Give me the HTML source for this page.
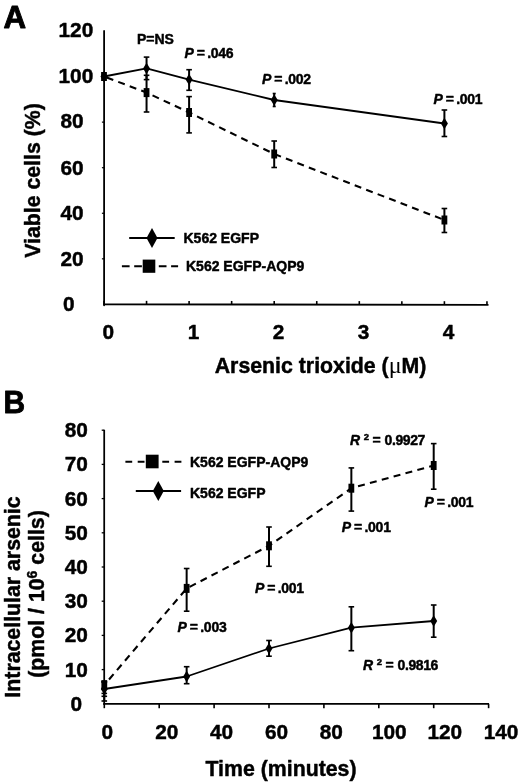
<!DOCTYPE html>
<html><head><meta charset="utf-8"><title>Figure</title>
<style>
html,body{margin:0;padding:0;background:#fff;}
svg{display:block;font-family:"Liberation Sans", sans-serif;filter:grayscale(1);}
text{fill:#000;stroke:#000;stroke-width:0.45px;stroke-linejoin:round;}
</style></head>
<body>
<svg width="520" height="784" viewBox="0 0 520 784">
<rect width="520" height="784" fill="#fff"/>
<line x1="104.1" y1="31" x2="104.1" y2="305.3" stroke="#000" stroke-width="1.8" stroke-linecap="round"/>
<line x1="103.2" y1="304.3" x2="488.5" y2="304.8" stroke="#000" stroke-width="1.8" stroke-linecap="butt"/>
<line x1="104.0" y1="300.8" x2="104.0" y2="304.4" stroke="#000" stroke-width="1.6" stroke-linecap="butt"/>
<line x1="146.55" y1="300.85" x2="146.55" y2="304.45" stroke="#000" stroke-width="1.6" stroke-linecap="butt"/>
<line x1="189.1" y1="300.9" x2="189.1" y2="304.5" stroke="#000" stroke-width="1.6" stroke-linecap="butt"/>
<line x1="231.65" y1="300.95" x2="231.65" y2="304.55" stroke="#000" stroke-width="1.6" stroke-linecap="butt"/>
<line x1="274.2" y1="301" x2="274.2" y2="304.6" stroke="#000" stroke-width="1.6" stroke-linecap="butt"/>
<line x1="316.75" y1="301.05" x2="316.75" y2="304.65" stroke="#000" stroke-width="1.6" stroke-linecap="butt"/>
<line x1="359.3" y1="301.1" x2="359.3" y2="304.7" stroke="#000" stroke-width="1.6" stroke-linecap="butt"/>
<line x1="401.85" y1="301.15" x2="401.85" y2="304.75" stroke="#000" stroke-width="1.6" stroke-linecap="butt"/>
<line x1="444.4" y1="301.2" x2="444.4" y2="304.8" stroke="#000" stroke-width="1.6" stroke-linecap="butt"/>
<line x1="486.95" y1="301.25" x2="486.95" y2="304.85" stroke="#000" stroke-width="1.6" stroke-linecap="butt"/>
<text x="68.9" y="311.3" font-size="20.8" font-weight="bold" text-anchor="middle" >0</text>
<text x="72" y="265.73" font-size="20.8" font-weight="bold" text-anchor="middle" >20</text>
<line x1="101.9" y1="258.83" x2="104.1" y2="258.83" stroke="#000" stroke-width="1.2" stroke-linecap="butt"/>
<text x="72" y="220.17" font-size="20.8" font-weight="bold" text-anchor="middle" >40</text>
<line x1="101.9" y1="213.27" x2="104.1" y2="213.27" stroke="#000" stroke-width="1.2" stroke-linecap="butt"/>
<text x="72" y="174.6" font-size="20.8" font-weight="bold" text-anchor="middle" >60</text>
<line x1="101.9" y1="167.7" x2="104.1" y2="167.7" stroke="#000" stroke-width="1.2" stroke-linecap="butt"/>
<text x="72" y="128.23" font-size="20.8" font-weight="bold" text-anchor="middle" >80</text>
<line x1="101.9" y1="122.13" x2="104.1" y2="122.13" stroke="#000" stroke-width="1.2" stroke-linecap="butt"/>
<text x="75.9" y="83.47" font-size="20.8" font-weight="bold" text-anchor="middle" >100</text>
<line x1="101.9" y1="76.57" x2="104.1" y2="76.57" stroke="#000" stroke-width="1.2" stroke-linecap="butt"/>
<text x="75.9" y="36.9" font-size="20.8" font-weight="bold" text-anchor="middle" >120</text>
<text x="108.4" y="338.9" font-size="20.8" font-weight="bold" text-anchor="middle" >0</text>
<text x="193.45" y="338.9" font-size="20.8" font-weight="bold" text-anchor="middle" >1</text>
<text x="278.5" y="338.9" font-size="20.8" font-weight="bold" text-anchor="middle" >2</text>
<text x="363.55" y="338.9" font-size="20.8" font-weight="bold" text-anchor="middle" >3</text>
<text x="448.6" y="338.9" font-size="20.8" font-weight="bold" text-anchor="middle" >4</text>
<polyline points="104.0,76.5 146.55,68.4 189.1,79.6 274.2,100 444.4,123.5" fill="none" stroke="#000" stroke-width="1.8" stroke-linejoin="round"/>
<polyline points="104.0,76.5 146.55,92.6 189.1,112.5 274.2,154 444.4,220" fill="none" stroke="#000" stroke-width="2.1" stroke-linejoin="round" stroke-dasharray="7 5.3" stroke-dashoffset="9.4"/>
<line x1="146.55" y1="57.1" x2="146.55" y2="79.6" stroke="#000" stroke-width="2.0" stroke-linecap="butt"/>
<line x1="143.75" y1="57.1" x2="149.35" y2="57.1" stroke="#000" stroke-width="1.6" stroke-linecap="butt"/>
<line x1="143.75" y1="79.6" x2="149.35" y2="79.6" stroke="#000" stroke-width="1.6" stroke-linecap="butt"/>
<line x1="189.1" y1="69.7" x2="189.1" y2="90.3" stroke="#000" stroke-width="2.0" stroke-linecap="butt"/>
<line x1="186.3" y1="69.7" x2="191.9" y2="69.7" stroke="#000" stroke-width="1.6" stroke-linecap="butt"/>
<line x1="186.3" y1="90.3" x2="191.9" y2="90.3" stroke="#000" stroke-width="1.6" stroke-linecap="butt"/>
<line x1="274.2" y1="93.5" x2="274.2" y2="106.5" stroke="#000" stroke-width="2.0" stroke-linecap="butt"/>
<line x1="272.7" y1="93.5" x2="275.7" y2="93.5" stroke="#000" stroke-width="1.6" stroke-linecap="butt"/>
<line x1="272.7" y1="106.5" x2="275.7" y2="106.5" stroke="#000" stroke-width="1.6" stroke-linecap="butt"/>
<line x1="444.4" y1="110" x2="444.4" y2="136.5" stroke="#000" stroke-width="2.0" stroke-linecap="butt"/>
<line x1="441.6" y1="110" x2="447.2" y2="110" stroke="#000" stroke-width="1.6" stroke-linecap="butt"/>
<line x1="441.6" y1="136.5" x2="447.2" y2="136.5" stroke="#000" stroke-width="1.6" stroke-linecap="butt"/>
<line x1="146.55" y1="75.3" x2="146.55" y2="112" stroke="#000" stroke-width="2.0" stroke-linecap="butt"/>
<line x1="143.75" y1="75.3" x2="149.35" y2="75.3" stroke="#000" stroke-width="1.6" stroke-linecap="butt"/>
<line x1="143.75" y1="112" x2="149.35" y2="112" stroke="#000" stroke-width="1.6" stroke-linecap="butt"/>
<line x1="189.1" y1="96.6" x2="189.1" y2="132.9" stroke="#000" stroke-width="2.0" stroke-linecap="butt"/>
<line x1="186.3" y1="96.6" x2="191.9" y2="96.6" stroke="#000" stroke-width="1.6" stroke-linecap="butt"/>
<line x1="186.3" y1="132.9" x2="191.9" y2="132.9" stroke="#000" stroke-width="1.6" stroke-linecap="butt"/>
<line x1="274.2" y1="141" x2="274.2" y2="167.5" stroke="#000" stroke-width="2.0" stroke-linecap="butt"/>
<line x1="271.4" y1="141" x2="277.0" y2="141" stroke="#000" stroke-width="1.6" stroke-linecap="butt"/>
<line x1="271.4" y1="167.5" x2="277.0" y2="167.5" stroke="#000" stroke-width="1.6" stroke-linecap="butt"/>
<line x1="444.4" y1="208.5" x2="444.4" y2="232.5" stroke="#000" stroke-width="2.0" stroke-linecap="butt"/>
<line x1="441.6" y1="208.5" x2="447.2" y2="208.5" stroke="#000" stroke-width="1.6" stroke-linecap="butt"/>
<line x1="441.6" y1="232.5" x2="447.2" y2="232.5" stroke="#000" stroke-width="1.6" stroke-linecap="butt"/>
<polygon points="104.0,70.75 107.5,76.5 104.0,82.25 100.5,76.5" fill="#000"/>
<polygon points="146.55,62.65 150.05,68.4 146.55,74.15 143.05,68.4" fill="#000"/>
<polygon points="189.1,73.85 192.6,79.6 189.1,85.35 185.6,79.6" fill="#000"/>
<polygon points="274.2,94.25 277.7,100 274.2,105.75 270.7,100" fill="#000"/>
<polygon points="444.4,117.75 447.9,123.5 444.4,129.25 440.9,123.5" fill="#000"/>
<rect x="101.1" y="72.0" width="5.8" height="9" fill="#000"/>
<rect x="143.65" y="88.1" width="5.8" height="9" fill="#000"/>
<rect x="186.2" y="108.0" width="5.8" height="9" fill="#000"/>
<rect x="271.3" y="149.5" width="5.8" height="9" fill="#000"/>
<rect x="441.5" y="215.5" width="5.8" height="9" fill="#000"/>
<text x="137" y="43.6" font-size="14" font-weight="bold" text-anchor="start" >P=NS</text>
<text x="184.5" y="57.8" font-size="14" font-weight="bold"><tspan font-style="italic">P</tspan><tspan dx="2.8">=</tspan><tspan dx="2.3" letter-spacing="-0.25">.046</tspan></text>
<text x="262" y="83.5" font-size="14" font-weight="bold"><tspan font-style="italic">P</tspan><tspan dx="2.8">=</tspan><tspan dx="2.3" letter-spacing="-0.25">.002</tspan></text>
<text x="433.5" y="103.5" font-size="14" font-weight="bold"><tspan font-style="italic">P</tspan><tspan dx="2.8">=</tspan><tspan dx="2.3" letter-spacing="-0.25">.001</tspan></text>
<line x1="129.2" y1="238" x2="174.7" y2="238" stroke="#000" stroke-width="2" stroke-linecap="butt"/>
<polygon points="152,227.9 157.5,237.9 152,247.9 146.5,237.9" fill="#000"/>
<text x="183.5" y="243" font-size="14" font-weight="bold" text-anchor="start" >K562 EGFP</text>
<line x1="121.9" y1="266.2" x2="178.1" y2="266.2" stroke="#000" stroke-width="2" stroke-linecap="butt" stroke-dasharray="7.7 4.6"/>
<rect x="142.7" y="259.6" width="12.6" height="13.2" fill="#000"/>
<text x="186" y="271.3" font-size="14" font-weight="bold" text-anchor="start" >K562 EGFP-AQP9</text>
<text transform="translate(39.6,180.5) rotate(-90)" font-size="21.3" font-weight="bold" text-anchor="middle">Viable cells (%)</text>
<text x="320.6" y="372.5" font-size="21.3" font-weight="bold" text-anchor="middle">Arsenic trioxide (<tspan font-family="'Liberation Serif',serif" font-weight="normal" font-size="24" style="stroke:none">μ</tspan>M)</text>
<text x="3.5" y="27.6" font-size="31.3" font-weight="bold" text-anchor="start" style="stroke-width:0.9px">A</text>
<line x1="104.2" y1="429.7" x2="104.2" y2="704.8" stroke="#000" stroke-width="1.75" stroke-linecap="butt"/>
<line x1="103.3" y1="703.8" x2="489" y2="703.8" stroke="#000" stroke-width="1.75" stroke-linecap="butt"/>
<line x1="104.3" y1="703.8" x2="104.3" y2="708.2" stroke="#000" stroke-width="1.6" stroke-linecap="butt"/>
<line x1="159.2" y1="703.8" x2="159.2" y2="708.2" stroke="#000" stroke-width="1.6" stroke-linecap="butt"/>
<line x1="214.1" y1="703.8" x2="214.1" y2="708.2" stroke="#000" stroke-width="1.6" stroke-linecap="butt"/>
<line x1="269.0" y1="703.8" x2="269.0" y2="708.2" stroke="#000" stroke-width="1.6" stroke-linecap="butt"/>
<line x1="323.9" y1="703.8" x2="323.9" y2="708.2" stroke="#000" stroke-width="1.6" stroke-linecap="butt"/>
<line x1="378.8" y1="703.8" x2="378.8" y2="708.2" stroke="#000" stroke-width="1.6" stroke-linecap="butt"/>
<line x1="433.7" y1="703.8" x2="433.7" y2="708.2" stroke="#000" stroke-width="1.6" stroke-linecap="butt"/>
<line x1="488.6" y1="703.8" x2="488.6" y2="708.2" stroke="#000" stroke-width="1.6" stroke-linecap="butt"/>
<text x="76.2" y="710.8" font-size="20.8" font-weight="bold" text-anchor="middle" >0</text>
<line x1="101.7" y1="669.6" x2="104.2" y2="669.6" stroke="#000" stroke-width="1.3" stroke-linecap="butt"/>
<text x="76.2" y="676.6" font-size="20.8" font-weight="bold" text-anchor="middle" >10</text>
<line x1="101.7" y1="635.4" x2="104.2" y2="635.4" stroke="#000" stroke-width="1.3" stroke-linecap="butt"/>
<text x="76.2" y="642.4" font-size="20.8" font-weight="bold" text-anchor="middle" >20</text>
<line x1="101.7" y1="601.2" x2="104.2" y2="601.2" stroke="#000" stroke-width="1.3" stroke-linecap="butt"/>
<text x="76.2" y="608.2" font-size="20.8" font-weight="bold" text-anchor="middle" >30</text>
<line x1="101.7" y1="567.0" x2="104.2" y2="567.0" stroke="#000" stroke-width="1.3" stroke-linecap="butt"/>
<text x="76.2" y="574.0" font-size="20.8" font-weight="bold" text-anchor="middle" >40</text>
<line x1="101.7" y1="532.8" x2="104.2" y2="532.8" stroke="#000" stroke-width="1.3" stroke-linecap="butt"/>
<text x="76.2" y="539.8" font-size="20.8" font-weight="bold" text-anchor="middle" >50</text>
<line x1="101.7" y1="498.6" x2="104.2" y2="498.6" stroke="#000" stroke-width="1.3" stroke-linecap="butt"/>
<text x="76.2" y="505.6" font-size="20.8" font-weight="bold" text-anchor="middle" >60</text>
<line x1="101.7" y1="464.4" x2="104.2" y2="464.4" stroke="#000" stroke-width="1.3" stroke-linecap="butt"/>
<text x="76.2" y="471.4" font-size="20.8" font-weight="bold" text-anchor="middle" >70</text>
<line x1="101.7" y1="430.2" x2="104.2" y2="430.2" stroke="#000" stroke-width="1.3" stroke-linecap="butt"/>
<text x="76.2" y="437.2" font-size="20.8" font-weight="bold" text-anchor="middle" >80</text>
<text x="107.3" y="738.9" font-size="20.8" font-weight="bold" text-anchor="middle" >0</text>
<text x="166.8" y="738.9" font-size="20.8" font-weight="bold" text-anchor="middle" >20</text>
<text x="221.6" y="738.9" font-size="20.8" font-weight="bold" text-anchor="middle" >40</text>
<text x="276.5" y="738.9" font-size="20.8" font-weight="bold" text-anchor="middle" >60</text>
<text x="331.3" y="738.9" font-size="20.8" font-weight="bold" text-anchor="middle" >80</text>
<text x="389.3" y="738.9" font-size="20.8" font-weight="bold" text-anchor="middle" >100</text>
<text x="444.8" y="738.9" font-size="20.8" font-weight="bold" text-anchor="middle" >120</text>
<text x="501" y="738.9" font-size="20.8" font-weight="bold" text-anchor="middle" >140</text>
<polyline points="104.3,689 186.65,676.5 269.0,648.5 351.35,627.7 433.7,621" fill="none" stroke="#000" stroke-width="1.8" stroke-linejoin="round"/>
<polyline points="104.3,685 186.65,588.4 269.0,545.8 351.35,488.2 433.7,465.5" fill="none" stroke="#000" stroke-width="2.1" stroke-linejoin="round" stroke-dasharray="7 5.3" stroke-dashoffset="5"/>
<line x1="104.3" y1="682" x2="104.3" y2="693.4" stroke="#000" stroke-width="2.0" stroke-linecap="butt"/>
<line x1="101.5" y1="682" x2="107.1" y2="682" stroke="#000" stroke-width="1.6" stroke-linecap="butt"/>
<line x1="101.5" y1="693.4" x2="107.1" y2="693.4" stroke="#000" stroke-width="1.6" stroke-linecap="butt"/>
<line x1="104.3" y1="682" x2="104.3" y2="701" stroke="#000" stroke-width="2.0" stroke-linecap="butt"/>
<line x1="101.5" y1="682" x2="107.1" y2="682" stroke="#000" stroke-width="1.6" stroke-linecap="butt"/>
<line x1="101.5" y1="701" x2="107.1" y2="701" stroke="#000" stroke-width="1.6" stroke-linecap="butt"/>
<line x1="186.65" y1="666.7" x2="186.65" y2="683.7" stroke="#000" stroke-width="2.0" stroke-linecap="butt"/>
<line x1="183.85" y1="666.7" x2="189.45" y2="666.7" stroke="#000" stroke-width="1.6" stroke-linecap="butt"/>
<line x1="183.85" y1="683.7" x2="189.45" y2="683.7" stroke="#000" stroke-width="1.6" stroke-linecap="butt"/>
<line x1="269.0" y1="640.5" x2="269.0" y2="656.2" stroke="#000" stroke-width="2.0" stroke-linecap="butt"/>
<line x1="266.2" y1="640.5" x2="271.8" y2="640.5" stroke="#000" stroke-width="1.6" stroke-linecap="butt"/>
<line x1="266.2" y1="656.2" x2="271.8" y2="656.2" stroke="#000" stroke-width="1.6" stroke-linecap="butt"/>
<line x1="351.35" y1="606.8" x2="351.35" y2="650.7" stroke="#000" stroke-width="2.0" stroke-linecap="butt"/>
<line x1="348.55" y1="606.8" x2="354.15" y2="606.8" stroke="#000" stroke-width="1.6" stroke-linecap="butt"/>
<line x1="348.55" y1="650.7" x2="354.15" y2="650.7" stroke="#000" stroke-width="1.6" stroke-linecap="butt"/>
<line x1="433.7" y1="605" x2="433.7" y2="637.2" stroke="#000" stroke-width="2.0" stroke-linecap="butt"/>
<line x1="430.9" y1="605" x2="436.5" y2="605" stroke="#000" stroke-width="1.6" stroke-linecap="butt"/>
<line x1="430.9" y1="637.2" x2="436.5" y2="637.2" stroke="#000" stroke-width="1.6" stroke-linecap="butt"/>
<line x1="104.3" y1="681" x2="104.3" y2="696.3" stroke="#000" stroke-width="2.0" stroke-linecap="butt"/>
<line x1="101.5" y1="681" x2="107.1" y2="681" stroke="#000" stroke-width="1.6" stroke-linecap="butt"/>
<line x1="101.5" y1="696.3" x2="107.1" y2="696.3" stroke="#000" stroke-width="1.6" stroke-linecap="butt"/>
<line x1="186.65" y1="568.5" x2="186.65" y2="611.2" stroke="#000" stroke-width="2.0" stroke-linecap="butt"/>
<line x1="183.85" y1="568.5" x2="189.45" y2="568.5" stroke="#000" stroke-width="1.6" stroke-linecap="butt"/>
<line x1="183.85" y1="611.2" x2="189.45" y2="611.2" stroke="#000" stroke-width="1.6" stroke-linecap="butt"/>
<line x1="269.0" y1="527" x2="269.0" y2="566.3" stroke="#000" stroke-width="2.0" stroke-linecap="butt"/>
<line x1="266.2" y1="527" x2="271.8" y2="527" stroke="#000" stroke-width="1.6" stroke-linecap="butt"/>
<line x1="266.2" y1="566.3" x2="271.8" y2="566.3" stroke="#000" stroke-width="1.6" stroke-linecap="butt"/>
<line x1="351.35" y1="467.9" x2="351.35" y2="511.1" stroke="#000" stroke-width="2.0" stroke-linecap="butt"/>
<line x1="348.55" y1="467.9" x2="354.15" y2="467.9" stroke="#000" stroke-width="1.6" stroke-linecap="butt"/>
<line x1="348.55" y1="511.1" x2="354.15" y2="511.1" stroke="#000" stroke-width="1.6" stroke-linecap="butt"/>
<line x1="433.7" y1="443.6" x2="433.7" y2="489.2" stroke="#000" stroke-width="2.0" stroke-linecap="butt"/>
<line x1="430.9" y1="443.6" x2="436.5" y2="443.6" stroke="#000" stroke-width="1.6" stroke-linecap="butt"/>
<line x1="430.9" y1="489.2" x2="436.5" y2="489.2" stroke="#000" stroke-width="1.6" stroke-linecap="butt"/>
<polygon points="104.3,683.25 107.8,689 104.3,694.75 100.8,689" fill="#000"/>
<polygon points="186.65,670.75 190.15,676.5 186.65,682.25 183.15,676.5" fill="#000"/>
<polygon points="269.0,642.75 272.5,648.5 269.0,654.25 265.5,648.5" fill="#000"/>
<polygon points="351.35,621.95 354.85,627.7 351.35,633.45 347.85,627.7" fill="#000"/>
<polygon points="433.7,615.25 437.2,621 433.7,626.75 430.2,621" fill="#000"/>
<rect x="101.4" y="680.5" width="5.8" height="9" fill="#000"/>
<rect x="183.75" y="583.9" width="5.8" height="9" fill="#000"/>
<rect x="266.1" y="541.3" width="5.8" height="9" fill="#000"/>
<rect x="348.45" y="483.7" width="5.8" height="9" fill="#000"/>
<rect x="430.8" y="461.0" width="5.8" height="9" fill="#000"/>
<text x="350" y="445.3" font-size="14" font-weight="bold"><tspan font-style="italic">R</tspan><tspan dy="-5.5" font-size="9.5" dx="3.6">2</tspan><tspan dy="5.5" dx="-0.4"> = </tspan><tspan letter-spacing="-0.4">0.9927</tspan></text>
<text x="363" y="670" font-size="14" font-weight="bold"><tspan font-style="italic">R</tspan><tspan dy="-5.5" font-size="9.5" dx="3.6">2</tspan><tspan dy="5.5" dx="-0.4"> = </tspan><tspan letter-spacing="-0.4">0.9816</tspan></text>
<text x="424.5" y="507.1" font-size="14" font-weight="bold"><tspan font-style="italic">P</tspan><tspan dx="2.8">=</tspan><tspan dx="2.3" letter-spacing="-0.25">.001</tspan></text>
<text x="341.8" y="532.1" font-size="14" font-weight="bold"><tspan font-style="italic">P</tspan><tspan dx="2.8">=</tspan><tspan dx="2.3" letter-spacing="-0.25">.001</tspan></text>
<text x="255" y="592.5" font-size="14" font-weight="bold"><tspan font-style="italic">P</tspan><tspan dx="2.8">=</tspan><tspan dx="2.3" letter-spacing="-0.25">.001</tspan></text>
<text x="177.6" y="631.7" font-size="14" font-weight="bold"><tspan font-style="italic">P</tspan><tspan dx="2.8">=</tspan><tspan dx="2.3" letter-spacing="-0.25">.003</tspan></text>
<line x1="125.4" y1="461.8" x2="181.4" y2="461.8" stroke="#000" stroke-width="2" stroke-linecap="butt" stroke-dasharray="6.8 5.5"/>
<rect x="145.8" y="454.7" width="12.8" height="13.6" fill="#000"/>
<text x="190" y="467.3" font-size="14" font-weight="bold" text-anchor="start" >K562 EGFP-AQP9</text>
<line x1="135.8" y1="491" x2="181.1" y2="491" stroke="#000" stroke-width="2" stroke-linecap="butt"/>
<polygon points="158.3,481.0 163.8,491 158.3,501.0 152.8,491" fill="#000"/>
<text x="190" y="497.5" font-size="14" font-weight="bold" text-anchor="start" >K562 EGFP</text>
<text transform="translate(19.6,597) rotate(-90)" font-size="21.3" font-weight="bold" text-anchor="middle">Intracellular arsenic</text>
<text transform="translate(44.3,594) rotate(-90)" font-size="21.3" font-weight="bold" text-anchor="middle">(pmol / 10<tspan dy="-7.5" font-size="14">6</tspan><tspan dy="7.5"> cells)</tspan></text>
<text x="281" y="776" font-size="21.3" font-weight="bold" text-anchor="middle">Time (minutes)</text>
<text x="3.5" y="413.0" font-size="31.6" font-weight="bold" text-anchor="start" style="stroke-width:0.9px" textLength="21.6" lengthAdjust="spacingAndGlyphs">B</text>
</svg>
</body></html>
